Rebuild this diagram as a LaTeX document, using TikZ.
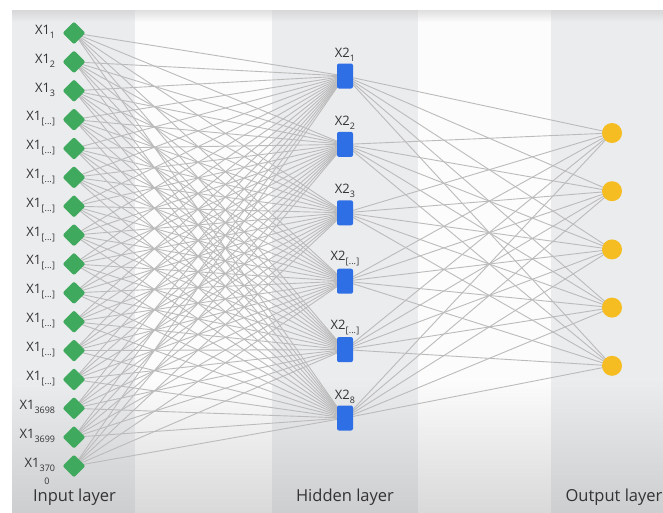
\documentclass[tikz,border=0pt]{standalone}
\usepackage{fontspec}
\setmainfont{Open Sans}
\usepackage{xcolor}
\usetikzlibrary{shapes.geometric,backgrounds}
\definecolor{bandgray}{HTML}{EBECEE}
\definecolor{bandwhite}{HTML}{FCFCFC}
\definecolor{bandgraylow}{HTML}{CDCED0}
\definecolor{bandwhitelow}{HTML}{D9D9DA}
\definecolor{inpgreen}{HTML}{3FA95E}
\definecolor{hidblue}{HTML}{2F6FE6}
\definecolor{outyellow}{HTML}{F5BD22}
\definecolor{wiregray}{HTML}{BBBBBB}
\definecolor{textgray}{HTML}{333333}
\newcommand{\etcsub}{[\kern0.3pt...\kern0.3pt]}
\newcommand{\lowsub}[1]{\raisebox{-4pt}{\fontsize{9}{10}\selectfont #1}}
\tikzset{
	inp/.style={diamond, fill=inpgreen, minimum size=23pt, inner sep=0pt, rounded corners=2pt},
	hid/.style={rectangle, fill=hidblue, minimum width=16pt, minimum height=25pt, inner sep=0pt, rounded corners=2pt},
	outp/.style={circle, fill=outyellow, minimum size=20pt, inner sep=0pt},
	lbl/.style={font=\fontsize{13}{15}\selectfont, text=textgray, inner sep=1pt},
	layertext/.style={font=\fontsize{16.5}{19}\selectfont, text=textgray, inner sep=0pt},
	wire/.style={draw=wiregray, line width=0.9pt}
}

\begin{document}
\begin{tikzpicture}[x=1pt,y=-1pt]
	\useasboundingbox (0,0) rectangle (663,512);
	\clip (0,0) rectangle (663,512);

	% input layer
	\foreach \s [count=\i] in {1,2,3,\etcsub,\etcsub,\etcsub,\etcsub,\etcsub,\etcsub,\etcsub,\etcsub,\etcsub,\etcsub,3698,3699,370}
		\node[inp, label={[lbl, label distance=6pt, yshift=1pt]left:X1\lowsub{\s}}] (in\i) at (74,{33+(\i-1)*28.87}) {};
	\node[lbl, font=\fontsize{9}{10}\selectfont] (in16wrap) at (47,481) {0};

	% hidden layer
	\foreach \s [count=\j] in {1,2,3,\etcsub,\etcsub,8}
		\node[hid, label={[lbl, label distance=1pt]above:X2\lowsub{\s}}] (hid\j) at (345,{76+(\j-1)*68.4}) {};

	% output layer
	\foreach \k in {1,...,5}
		\node[outp] (out\k) at (612,{133+(\k-1)*58.2}) {};

	% layer names
	\node[layertext] (inname) at (74.5,497) {Input layer};
	\node[layertext] (hidname) at (345,497) {Hidden layer};
	\node[layertext] (outname) at (614,497) {Output layer};

	\begin{scope}[on background layer]
		% column bands
		\fill[white] (0,0) rectangle (663,512);
		\foreach \a/\b/\c/\d in {12/135/bandgray/bandgraylow,135/272/bandwhite/bandwhitelow,272/418/bandgray/bandgraylow,418/551/bandwhite/bandwhitelow,551/663/bandgray/bandgraylow}{
			\fill[\c] (\a,10) rectangle (\b,380);
			\shade[top color=\c, bottom color=\d] (\a,379.5) rectangle (\b,512);
			\shade[top color=\c!80!black!60, bottom color=\c] (\a,10) rectangle (\b,22);
		}
		% connections
		\foreach \i in {1,...,16}
			\foreach \j in {1,...,6}
				\draw[wire] (in\i.center) -- (hid\j.center);
		\foreach \j in {1,...,6}
			\foreach \k in {1,...,5}
				\draw[wire] (hid\j.center) -- (out\k.center);
	\end{scope}
\end{tikzpicture}
\end{document}
